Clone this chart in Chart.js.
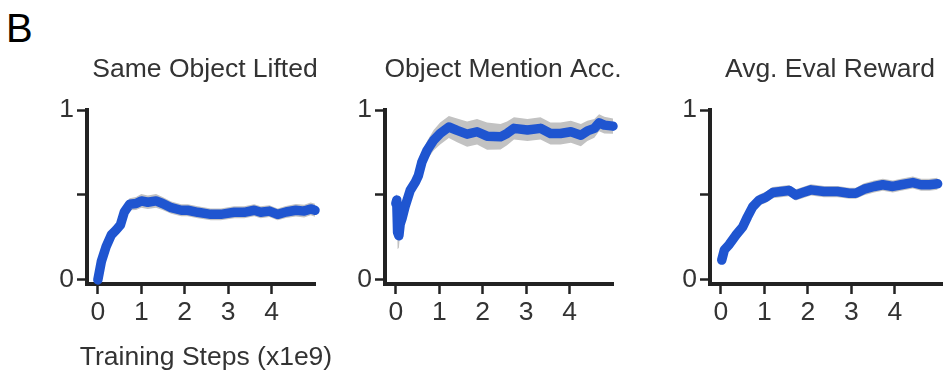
<!DOCTYPE html>
<html>
<head>
<meta charset="utf-8">
<script src="https://cdn.jsdelivr.net/npm/chart.js@4.4.0/dist/chart.umd.min.js"></script>
<style>
  body { margin: 0; width: 943px; height: 375px; background: #fff; position: relative; overflow: hidden;
         font-family: "Liberation Sans", Arial, sans-serif; }
  .panel { position: absolute; top: 40px; }
  #panelLabel { position: absolute; left: 6px; top: 6px; font-size: 40px; color: #000; }
</style>
</head>
<body>
<div id="panelLabel">B</div>
<div class="panel" style="left:40px"><canvas id="liftedChart" width="300" height="334"></canvas></div>
<div class="panel" style="left:338px"><canvas id="mentionChart" width="300" height="334"></canvas></div>
<div class="panel" style="left:663px"><canvas id="rewardChart" width="280" height="334"></canvas></div>
<script>
// Training steps are in units of 1e9
const stepTicks = [0, 1, 2, 3, 4];
const scoreTicks = [0, 0.5, 1];

// Same Object Lifted
const liftedSteps = [0, 0.08, 0.19, 0.31, 0.42, 0.52, 0.61, 0.73, 0.88, 1.0, 1.15, 1.34, 1.49, 1.69, 1.92,
    2.07, 2.30, 2.60, 2.83, 3.14, 3.37, 3.60, 3.75, 3.95, 4.14, 4.33, 4.56, 4.75, 4.90, 5.0];
const lifted = [0, 0.108, 0.196, 0.265, 0.294, 0.324, 0.40, 0.445, 0.45, 0.465, 0.457, 0.465, 0.45, 0.425, 0.41,
    0.41, 0.398, 0.386, 0.386, 0.398, 0.398, 0.41, 0.398, 0.405, 0.386, 0.40, 0.41, 0.405, 0.418, 0.41];
const liftedSpread = [0.015, 0.02, 0.022, 0.025, 0.025, 0.028, 0.03, 0.035, 0.038, 0.04, 0.04, 0.04, 0.038, 0.036, 0.035,
    0.035, 0.035, 0.035, 0.035, 0.035, 0.035, 0.035, 0.035, 0.035, 0.035, 0.035, 0.037, 0.038, 0.038, 0.038];

// Object Mention Acc.
const mentionSteps = [0, 0.02, 0.04, 0.07, 0.10, 0.14, 0.21, 0.33, 0.45, 0.52, 0.60, 0.72, 0.87, 1.02, 1.22,
    1.41, 1.64, 1.87, 2.10, 2.41, 2.56, 2.72, 3.03, 3.33, 3.56, 3.79, 4.03, 4.26, 4.41, 4.57, 4.68, 4.80, 5.0];
const mention = [0.45, 0.47, 0.28, 0.26, 0.33, 0.36, 0.43, 0.527, 0.576, 0.615, 0.694, 0.763, 0.822, 0.862, 0.90,
    0.88, 0.858, 0.872, 0.846, 0.842, 0.862, 0.892, 0.882, 0.892, 0.862, 0.862, 0.872, 0.852, 0.877, 0.892, 0.925, 0.911, 0.905];
const mentionSpread = [0.03, 0.04, 0.1, 0.07, 0.05, 0.045, 0.045, 0.045, 0.045, 0.05, 0.05, 0.055, 0.06, 0.065, 0.065,
    0.07, 0.075, 0.075, 0.08, 0.075, 0.07, 0.065, 0.065, 0.065, 0.065, 0.065, 0.065, 0.065, 0.06, 0.055, 0.05, 0.05, 0.045];

// Avg. Eval Reward
const rewardSteps = [0.02, 0.08, 0.19, 0.34, 0.50, 0.61, 0.73, 0.88, 1.03, 1.19, 1.38, 1.57, 1.72, 1.88,
    2.07, 2.37, 2.68, 2.95, 3.10, 3.29, 3.52, 3.72, 3.95, 4.14, 4.41, 4.60, 4.79, 4.98];
const reward = [0.117, 0.177, 0.208, 0.262, 0.311, 0.371, 0.43, 0.47, 0.486, 0.514, 0.52, 0.526, 0.50, 0.514,
    0.53, 0.52, 0.52, 0.51, 0.51, 0.534, 0.55, 0.56, 0.55, 0.56, 0.573, 0.56, 0.56, 0.566];
const rewardSpread = [0.015, 0.018, 0.02, 0.022, 0.025, 0.028, 0.03, 0.032, 0.033, 0.033, 0.033, 0.033, 0.033, 0.033,
    0.033, 0.033, 0.033, 0.033, 0.033, 0.035, 0.035, 0.035, 0.035, 0.035, 0.035, 0.035, 0.035, 0.035];

const lineBlue = '#1f55d0';
const bandGray = '#c2c2c2';
const axisColor = '#222';
const textColor = '#333';
const fontFamily = '"Liberation Sans", Arial, sans-serif';

Chart.defaults.font.family = fontFamily;
Chart.defaults.font.size = 26.5;
Chart.defaults.color = textColor;

// Panel title above the plot and optional axis caption below it.
// Drawn by hand so long titles are not squeezed to the plot width.
const panelText = {
    id: 'panelText',
    afterDraw(chart, args, opts) {
        const { ctx, chartArea } = chart;
        const cx = (chartArea.left + chartArea.right) / 2 + 4;
        ctx.save();
        ctx.fillStyle = textColor;
        ctx.textAlign = 'center';
        ctx.textBaseline = 'middle';
        ctx.font = '26.5px ' + fontFamily;
        ctx.fillText(opts.title, cx, chartArea.top - 40);
        if (opts.xTitle) {
            ctx.fillText(opts.xTitle, cx + 1, chartArea.bottom + 74);
        }
        ctx.restore();
    }
};

function points(steps, values, offset, sign) {
    return steps.map((s, i) => ({ x: s, y: values[i] + sign * (offset ? offset[i] : 0) }));
}

function makePanel(canvasId, title, steps, values, spread, xMax, padRight, xTitle) {
    new Chart(document.getElementById(canvasId), {
        type: 'line',
        data: {
            datasets: [
                {
                    data: points(steps, values, null, 0),
                    borderColor: lineBlue,
                    borderWidth: 9.5,
                    borderCapStyle: 'round',
                    borderJoinStyle: 'round',
                    pointRadius: 0,
                    tension: 0,
                    fill: false,
                    clip: false
                },
                {
                    data: points(steps, values, spread, -1),
                    borderWidth: 0,
                    pointRadius: 0,
                    fill: false
                },
                {
                    data: points(steps, values, spread, 1),
                    borderWidth: 0,
                    pointRadius: 0,
                    backgroundColor: bandGray,
                    fill: '-1'
                }
            ]
        },
        plugins: [panelText],
        options: {
            responsive: false,
            animation: false,
            layout: { padding: { top: 70, right: padRight, bottom: 0, left: 0 } },
            plugins: {
                legend: { display: false },
                tooltip: { enabled: false },
                panelText: { title: title, xTitle: xTitle }
            },
            scales: {
                x: {
                    type: 'linear',
                    min: -0.25,
                    max: xMax,
                    afterBuildTicks: scale => { scale.ticks = stepTicks.map(v => ({ value: v })); },
                    afterFit: scale => { scale.height = 90; },
                    grid: { drawOnChartArea: false, tickLength: 10, tickWidth: 2.5, tickColor: axisColor },
                    border: { display: true, width: 4, color: axisColor },
                    ticks: { padding: 3, maxRotation: 0, autoSkip: false, color: textColor }
                },
                y: {
                    min: -0.024,
                    max: 1,
                    afterBuildTicks: scale => { scale.ticks = scoreTicks.map(v => ({ value: v })); },
                    afterFit: scale => { scale.width = 47; },
                    grid: { drawOnChartArea: false, tickLength: 10, tickWidth: 2.5, tickColor: axisColor },
                    border: { display: true, width: 4, color: axisColor },
                    ticks: {
                        padding: 3,
                        color: textColor,
                        callback: v => (v === 0.5 ? '' : String(v))
                    }
                }
            }
        }
    });
}

makePanel('liftedChart', 'Same Object Lifted', liftedSteps, lifted, liftedSpread, 5, 25, 'Training Steps (x1e9)');
makePanel('mentionChart', 'Object Mention Acc.', mentionSteps, mention, mentionSpread, 5, 25, null);
makePanel('rewardChart', 'Avg. Eval Reward', rewardSteps, reward, rewardSpread, 5.08, 1, null);
</script>
</body>
</html>
